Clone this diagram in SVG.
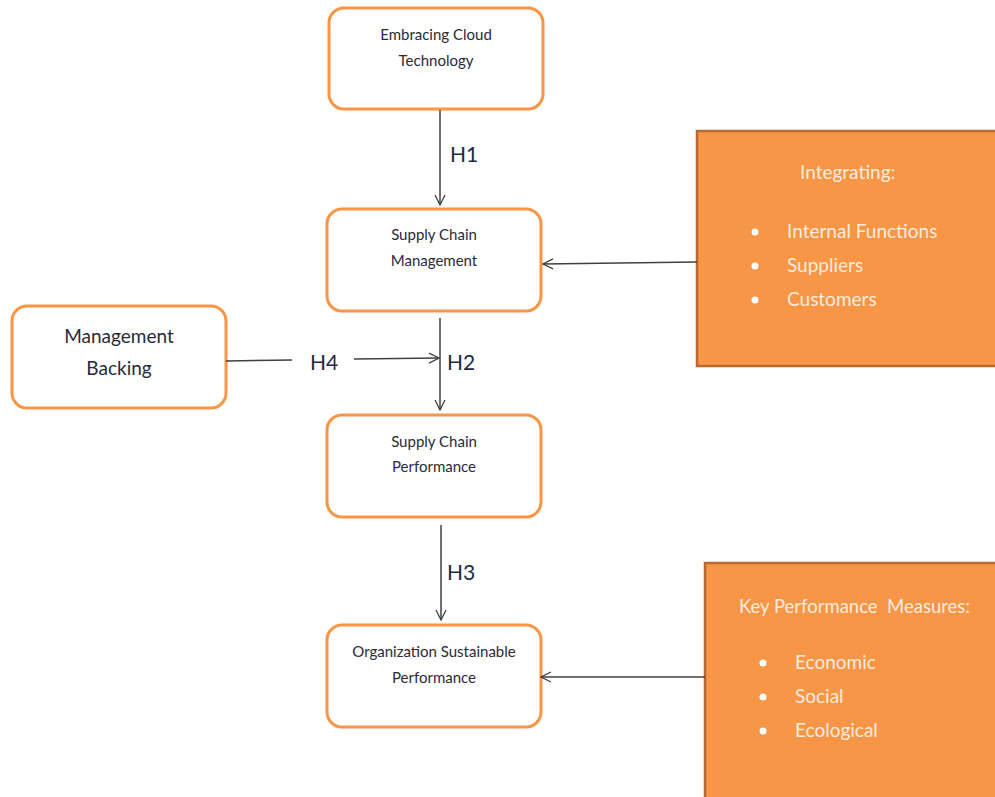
<svg xmlns="http://www.w3.org/2000/svg" width="995" height="797" viewBox="0 0 995 797">
<defs>
<marker id="ah" viewBox="0 0 12 12" refX="11" refY="6" markerWidth="12" markerHeight="12" markerUnits="userSpaceOnUse" orient="auto">
<path d="M1,1 L11,6 L1,11" fill="none" stroke="#404040" stroke-width="1.3"/>
</marker>
<style>
.node{fill:#fff;stroke:#F79646;stroke-width:3}
.fill{fill:#F79646;stroke:#B8692F;stroke-width:2.5}
.t{font-family:Lato,"Open Sans",sans-serif;fill:#2a2a3a;text-anchor:middle}
.s{font-size:15px}
.m{font-size:19px}
.w{font-family:Lato,"Open Sans",sans-serif;fill:#FDEBDD;font-size:19px}
.h{font-family:Lato,"Open Sans",sans-serif;fill:#1f2a44;font-size:21px}
.c{stroke:#404040;stroke-width:1.5;fill:none}
</style>
</defs>
<rect width="995" height="797" fill="#fff"/>
<g id="n-cloud">
<rect class="node" x="329" y="8" width="214" height="101" rx="15"/>
<text class="t s" x="436" y="40">Embracing Cloud</text>
<text class="t s" x="436" y="66">Technology</text>
</g>
<g id="n-scm">
<rect class="node" x="327" y="209" width="214" height="102" rx="15"/>
<text class="t s" x="434" y="240">Supply Chain</text>
<text class="t s" x="434" y="266">Management</text>
</g>
<g id="n-mb">
<rect class="node" x="12" y="306" width="214" height="102" rx="15"/>
<text class="t m" x="119" y="343">Management</text>
<text class="t m" x="119" y="375">Backing</text>
</g>
<g id="n-scp">
<rect class="node" x="327" y="415" width="214" height="102" rx="15"/>
<text class="t s" x="434" y="447">Supply Chain</text>
<text class="t s" x="434" y="472">Performance</text>
</g>
<g id="n-osp">
<rect class="node" x="327" y="625" width="214" height="102" rx="15"/>
<text class="t s" x="434" y="657">Organization Sustainable</text>
<text class="t s" x="434" y="683">Performance</text>
</g>
<g id="n-int">
<rect class="fill" x="697" y="131" width="305" height="235"/>
<text class="w" x="800" y="179">Integrating:</text>
<circle cx="755" cy="232" r="3.5" fill="#fff"/>
<circle cx="755" cy="266" r="3.5" fill="#fff"/>
<circle cx="755" cy="300" r="3.5" fill="#fff"/>
<text class="w" x="787" y="238">Internal Functions</text>
<text class="w" x="787" y="272">Suppliers</text>
<text class="w" x="787" y="306">Customers</text>
</g>
<g id="n-kpm">
<rect class="fill" x="705" y="563" width="300" height="240"/>
<text class="w" x="739" y="613" xml:space="preserve" textLength="231" lengthAdjust="spacingAndGlyphs">Key Performance  Measures:</text>
<circle cx="763" cy="663" r="3.5" fill="#fff"/>
<circle cx="763" cy="697" r="3.5" fill="#fff"/>
<circle cx="763" cy="731" r="3.5" fill="#fff"/>
<text class="w" x="795" y="669">Economic</text>
<text class="w" x="795" y="703">Social</text>
<text class="w" x="795" y="737">Ecological</text>
</g>
<g id="connectors">
<line class="c" x1="440" y1="110" x2="440" y2="205" marker-end="url(#ah)"/>
<line class="c" x1="440" y1="318" x2="440" y2="410" marker-end="url(#ah)"/>
<line class="c" x1="441" y1="525" x2="441" y2="620" marker-end="url(#ah)"/>
<line class="c" x1="226" y1="361" x2="292" y2="360"/>
<line class="c" x1="354" y1="359" x2="439" y2="358" marker-end="url(#ah)"/>
<line class="c" x1="697" y1="262" x2="543" y2="264" marker-end="url(#ah)"/>
<line class="c" x1="705" y1="677" x2="541" y2="677" marker-end="url(#ah)"/>
<text class="h" x="450" y="162">H1</text>
<text class="h" x="447" y="370">H2</text>
<text class="h" x="310" y="370">H4</text>
<text class="h" x="447" y="580">H3</text>
</g>
</svg>
